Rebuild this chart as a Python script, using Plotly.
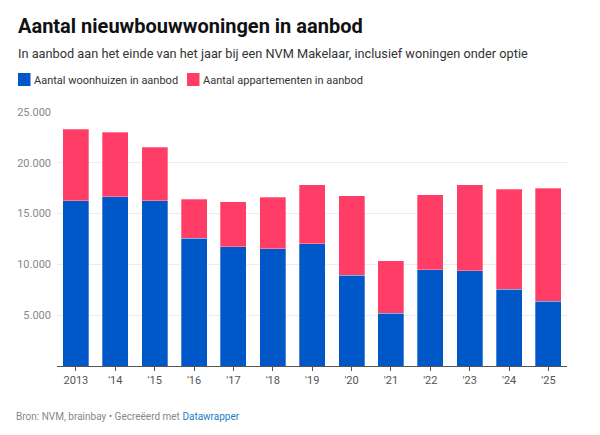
import plotly.graph_objects as go

years = ["2013", "'14", "'15", "'16", "'17", "'18", "'19", "'20", "'21", "'22", "'23", "'24", "'25"]
woonhuizen = [16250, 16640, 16250, 12570, 11740, 11540, 12010, 8950, 5170, 9470, 9370, 7570, 6350]
totaal = [23280, 23030, 21550, 16420, 16150, 16610, 17860, 16770, 10360, 16870, 17860, 17400, 17500]
appartementen = [t - w for t, w in zip(totaal, woonhuizen)]
y_ticks = [5000, 10000, 15000, 20000, 25000]
y_labels = ["5.000", "10.000", "15.000", "20.000", "25.000"]

BLUE = "#0057C8"
PINK = "#FF3D66"
FONT = "Roboto"

W, H = 600, 435
L, R, T, B = 57, 33, 112, 69

def px(x):
    return (x - L) / (W - L - R)

def py(y):
    return (H - B - y) / (H - T - B)

fig = go.Figure()
fig.add_trace(go.Bar(x=years, y=woonhuizen, name="Aantal woonhuizen in aanbod",
                     marker=dict(color=BLUE, line=dict(color="rgba(255,255,255,0.5)", width=0.6)),
                     width=0.66, showlegend=False))
fig.add_trace(go.Bar(x=years, y=appartementen, name="Aantal appartementen in aanbod",
                     marker=dict(color=PINK, line=dict(color="rgba(255,255,255,0.5)", width=0.6)),
                     width=0.66, showlegend=False))

fig.update_layout(
    barmode="stack",
    width=W, height=H,
    margin=dict(l=L, r=R, t=T, b=B, autoexpand=False),
    plot_bgcolor="white", paper_bgcolor="white",
    font=dict(family=FONT, color="#333333"),
)
fig.update_xaxes(
    range=[-0.48, 12.47],
    showgrid=False, showline=True, linecolor="#555555", linewidth=1,
    ticks="outside", ticklen=4, tickcolor="#555555", tickwidth=1,
    tickfont=dict(family=FONT, size=11, color="#555555"),
    fixedrange=True,
)
fig.update_yaxes(
    range=[0, 25000],
    tickvals=y_ticks, ticktext=y_labels,
    showgrid=True, gridcolor="#ECECEC", gridwidth=1,
    zeroline=False, showline=False, ticks="", ticklabelstandoff=5,
    tickfont=dict(family=FONT, size=11, color="#888888"),
    fixedrange=True,
)

# Title, subtitle
fig.add_annotation(text="<b>Aantal nieuwbouwwoningen in aanbod</b>", xref="paper", yref="paper",
                   x=px(16), y=py(26), xanchor="left", yanchor="middle", showarrow=False,
                   font=dict(family=FONT, size=20, color="#111111"))
fig.add_annotation(text="In aanbod aan het einde van het jaar bij een NVM Makelaar, inclusief woningen onder optie",
                   xref="paper", yref="paper", x=px(16), y=py(54), xanchor="left", yanchor="middle",
                   showarrow=False, font=dict(family=FONT, size=12.75, color="#333333"))

# Legend
legend = [("Aantal woonhuizen in aanbod", BLUE, 18), ("Aantal appartementen in aanbod", PINK, 187)]
for label, color, x0 in legend:
    fig.add_shape(type="rect", xref="paper", yref="paper",
                  x0=px(x0), x1=px(x0 + 12.5), y0=py(86), y1=py(73),
                  fillcolor=color, line=dict(width=0))
    fig.add_annotation(text=label, xref="paper", yref="paper", x=px(x0 + 14), y=py(80),
                       xanchor="left", yanchor="middle", showarrow=False,
                       font=dict(family=FONT, size=11, color="#333333"))

# Footer
fig.add_annotation(text="Bron: NVM, brainbay • Gecreëerd met <span style='color:#1D81C4'>Datawrapper</span>",
                   xref="paper", yref="paper", x=px(14), y=py(416), xanchor="left", yanchor="middle",
                   showarrow=False, font=dict(family=FONT, size=10, color="#888888"))

fig.write_html("out.html", config={"displayModeBar": False},
               post_script="document.body.style.margin='0';")
